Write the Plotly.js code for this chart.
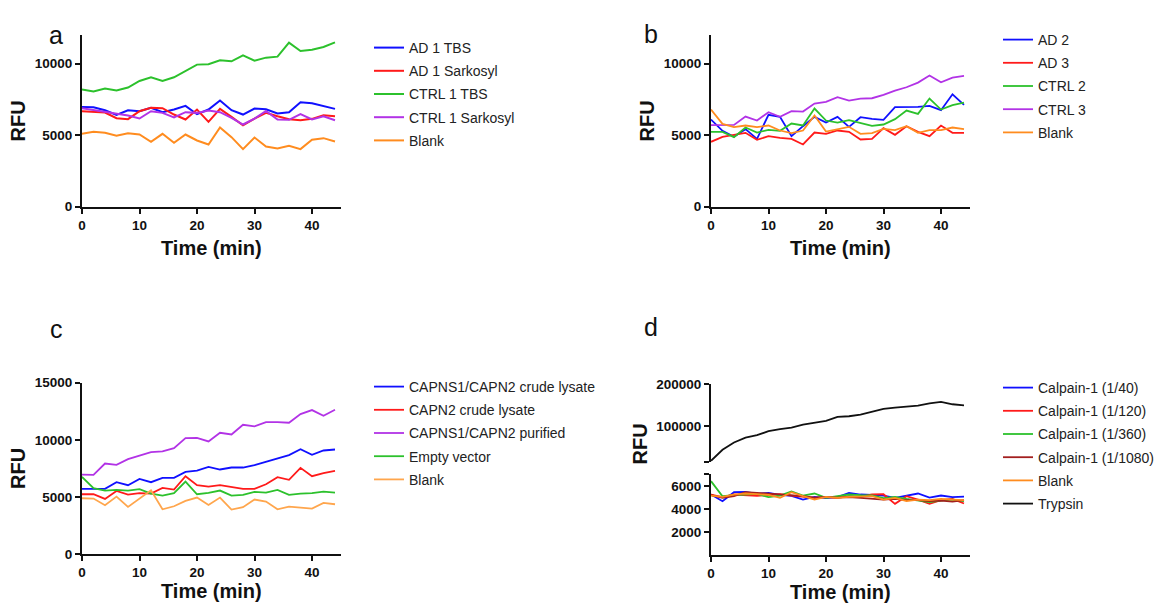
<!DOCTYPE html>
<html>
<head>
<meta charset="utf-8">
<script src="https://cdn.plot.ly/plotly-3.0.1.min.js"></script>
<style>html,body{margin:0;padding:0;background:#fff;}#chart{width:1161px;height:608px;}</style>
</head>
<body>
<div id="chart"></div>
<script>
// ---------- data ----------
const time = [0,2,4,6,8,10,12,14,16,18,20,22,24,26,28,30,32,34,36,38,40,42,44];

// panel a
const aNames = ['AD 1 TBS','AD 1 Sarkosyl','CTRL 1 TBS','CTRL 1 Sarkosyl','Blank'];
const aAD1TBS = [6976,6953,6744,6418,6744,6674,6907,6604,6790,7046,6465,6790,7418,6744,6441,6860,6814,6511,6604,7302,7232,7046,6837];
const aAD1Sark = [6674,6651,6581,6186,6116,6674,6907,6884,6441,6093,6790,5930,6837,6279,5697,6163,6558,6325,6116,6046,6139,6395,6325];
const aCTRL1TBS = [8186,8046,8256,8116,8325,8790,9046,8790,9046,9488,9930,9953,10232,10163,10581,10209,10418,10488,11465,10884,10977,11163,11488];
const aCTRL1Sark = [6884,6744,6628,6511,6372,6163,6674,6558,6232,6604,6558,6720,6604,6209,5744,6163,6697,6093,6070,6465,6093,6325,6046];
const aBlank = [5093,5232,5163,4953,5139,5046,4535,5093,4465,5046,4628,4348,5535,4860,4023,4837,4209,4069,4255,4023,4674,4790,4557];

// panel b
const bNames = ['AD 2','AD 3','CTRL 2','CTRL 3','Blank'];
const bAD2 = [6093,5302,4883,5418,4744,6418,6279,4930,5627,6279,5883,6279,5581,6255,6139,6069,6953,6953,6976,7046,6744,7860,7116];
const bAD3 = [4534,4883,5023,5162,4674,4930,4813,4744,4348,5185,5093,5325,5232,4697,4744,5488,5023,5627,5232,4930,5674,5162,5162];
const bCTRL2 = [5232,5232,4860,5534,5185,5372,5302,5813,5674,6860,6023,5883,6046,5837,5651,5744,6116,6720,6488,7558,6790,7093,7279];
const bCTRL3 = [5697,5697,5720,6302,6023,6604,6279,6674,6651,7209,7325,7651,7418,7558,7581,7814,8116,8349,8674,9163,8697,9023,9139];
const bBlank = [6790,5790,5557,5674,5557,5674,5325,5139,5325,6372,5255,5395,5581,5093,5139,5441,5348,5627,5162,5348,5348,5534,5418];

// panel c
const cNames = ['CAPNS1/CAPN2 crude lysate','CAPN2 crude lysate','CAPNS1/CAPN2 purified','Empty vector','Blank'];
const cCrude = [5702,5672,5702,6286,6023,6579,6286,6667,6667,7193,7310,7632,7398,7573,7573,7778,8070,8363,8655,9181,8684,9064,9152];
const cCAPN2 = [5234,5234,4825,5526,5205,5322,5292,5789,5643,6813,6023,5906,6023,5848,5702,5702,6111,6725,6491,7544,6813,7076,7281];
const cPurified = [6959,6930,7924,7807,8304,8596,8918,8977,9269,10146,10175,9854,10614,10468,11316,11170,11550,11550,11491,12251,12602,12105,12632];
const cEmpty = [6754,5760,5556,5614,5556,5672,5292,5117,5322,6345,5234,5351,5556,5117,5175,5439,5380,5614,5175,5292,5322,5468,5380];
const cBlank = [4883,4854,4269,5029,4123,4825,5585,3918,4181,4649,4942,4298,4942,3889,4094,4766,4591,3918,4152,4064,3977,4474,4357];

// panel d
const dNames = ['Calpain-1 (1/40)','Calpain-1 (1/120)','Calpain-1 (1/360)','Calpain-1 (1/1080)','Blank','Trypsin'];
const dCal40 = [5246,4667,5449,5478,5304,5391,5217,5130,4811,5043,4927,5014,5391,5246,5217,5159,4956,5159,5333,4985,5159,5014,5072];
const dCal120 = [5246,5014,5246,5159,5130,5188,5275,5159,5043,4956,5014,4956,5101,5043,5246,5275,4435,5101,4811,4435,4753,4869,4464];
const dCal360 = [6406,5101,5188,5275,5304,5014,5159,5507,5159,5333,4956,5101,5246,5188,5159,4927,5043,4869,4753,4579,4724,4811,4667];
const dCal1080 = [5188,4956,5101,5449,5391,5333,5217,5159,5101,4985,5043,4985,5014,4956,4869,4811,4869,4753,4753,4667,4724,4638,4753];
const dBlank = [5159,5043,5246,5333,5275,5217,4956,5449,5101,4811,5043,4956,5043,5101,5101,4811,4956,4667,4811,4753,4869,4811,4753];
const dTrypsin = [18100,44100,61400,73200,78700,88200,92900,96900,103900,108700,112600,122000,123600,127600,134600,140900,144100,146500,148800,154300,157500,152000,149600];

// ---------- styling ----------
const W = 1161, H = 608;
const fx = p => p / W;
const fy = p => 1 - p / H;
const C = {blue:'#1010ff', red:'#ff1a1a', green:'#2cc12c', purple:'#b233e6', orange:'#ff8c1f', lorange:'#ffa64d', dred:'#a31f1f', black:'#111111'};
const FONT = 'Liberation Sans, Arial, sans-serif';
const tickfont = {family: FONT, size: 13.5, weight: 'bold', color: '#111'};
const titlefont = {family: FONT, size: 20, weight: 'bold', color: '#111'};

function line(x, y, name, color, xa, ya, leg, w) {
  return {type:'scatter', mode:'lines', x:x, y:y, name:name, xaxis:xa, yaxis:ya,
          legend:leg, legendgroup: leg + name,
          line:{color:color, width:w || 1.8}, hoverinfo:'x+y+name'};
}

const traces = [
  line(time, aAD1TBS, aNames[0], C.blue, 'x', 'y', 'legend', 2),
  line(time, aAD1Sark, aNames[1], C.red, 'x', 'y', 'legend', 2),
  line(time, aCTRL1TBS, aNames[2], C.green, 'x', 'y', 'legend', 2),
  line(time, aCTRL1Sark, aNames[3], C.purple, 'x', 'y', 'legend', 2),
  line(time, aBlank, aNames[4], C.orange, 'x', 'y', 'legend', 2),

  line(time, bAD2, bNames[0], C.blue, 'x2', 'y2', 'legend2'),
  line(time, bAD3, bNames[1], C.red, 'x2', 'y2', 'legend2'),
  line(time, bCTRL2, bNames[2], C.green, 'x2', 'y2', 'legend2'),
  line(time, bCTRL3, bNames[3], C.purple, 'x2', 'y2', 'legend2'),
  line(time, bBlank, bNames[4], C.orange, 'x2', 'y2', 'legend2'),

  line(time, cCrude, cNames[0], C.blue, 'x3', 'y3', 'legend3'),
  line(time, cCAPN2, cNames[1], C.red, 'x3', 'y3', 'legend3'),
  line(time, cPurified, cNames[2], C.purple, 'x3', 'y3', 'legend3'),
  line(time, cEmpty, cNames[3], C.green, 'x3', 'y3', 'legend3'),
  line(time, cBlank, cNames[4], C.lorange, 'x3', 'y3', 'legend3'),

  line(time, dCal40, dNames[0], C.blue, 'x4', 'y4', 'legend4'),
  line(time, dCal120, dNames[1], C.red, 'x4', 'y4', 'legend4'),
  line(time, dCal360, dNames[2], C.green, 'x4', 'y4', 'legend4'),
  line(time, dCal1080, dNames[3], C.dred, 'x4', 'y4', 'legend4'),
  line(time, dBlank, dNames[4], C.orange, 'x4', 'y4', 'legend4'),
  line(time, dTrypsin, dNames[5], C.black, 'x4', 'y5', 'legend4'),
];

function xax(domain, anchor, standoff) {
  return {domain: domain, anchor: anchor, range:[0,45], tick0:0, dtick:10,
          ticks:'outside', ticklen:5, tickwidth:2, tickcolor:'#111',
          showline:true, linewidth:2, linecolor:'#111', showgrid:false, zeroline:false,
          tickfont: tickfont,
          title:{text:'Time (min)', font: titlefont, standoff: standoff}};
}
function yax(domain, anchor, range, opts) {
  return Object.assign({domain: domain, anchor: anchor, range: range, tickformat:'d',
          ticks:'outside', ticklen:5, tickwidth:2, tickcolor:'#111',
          showline:true, linewidth:2, linecolor:'#111', showgrid:false, zeroline:false,
          tickfont: tickfont}, opts);
}

const xLeft = [fx(82), fx(340.75)];
const xRight = [fx(711), fx(969.75)];
const yTop = [fy(206.7), fy(35)];
const yC = [fy(554), fy(382.7)];
const yDlow = [fy(555), fy(474.3)];
const yDhigh = [fy(461.7), fy(384)];

function legendAt(xpx, ypx) {
  return {x: fx(xpx), y: fy(ypx), xanchor:'left', yanchor:'top', bgcolor:'rgba(0,0,0,0)',
          font:{family: FONT, size: 14, color:'#222'}, tracegroupgap: 2, itemclick:false, itemdoubleclick:false};
}

const rfuTitle = {text:'RFU', font: titlefont, standoff: 4};

const layout = {
  width: W, height: H,
  margin:{l:0, r:0, t:0, b:0},
  paper_bgcolor:'#fff', plot_bgcolor:'rgba(0,0,0,0)',
  showlegend: true,
  xaxis: xax(xLeft, 'y', 9),
  yaxis: yax(yTop, 'x', [0,12000], {tickvals:[0,5000,10000], title: rfuTitle}),
  xaxis2: xax(xRight, 'y2', 9),
  yaxis2: yax(yTop, 'x2', [0,12000], {tickvals:[0,5000,10000], title: rfuTitle}),
  xaxis3: xax(xLeft, 'y3', 5),
  yaxis3: yax(yC, 'x3', [0,15000], {tickvals:[0,5000,10000,15000], title: rfuTitle}),
  xaxis4: xax(xRight, 'y4', 5),
  yaxis4: yax(yDlow, 'x4', [0,7000], {tickvals:[2000,4000,6000,7000], ticktext:['2000','4000','6000','']}),
  yaxis5: yax(yDhigh, 'x4', [16000,200000], {tickvals:[16000,100000,200000], ticktext:['','100000','200000']}),
  legend: legendAt(369, 32),
  legend2: legendAt(998, 24),
  legend3: legendAt(369, 371),
  legend4: legendAt(998, 372),
  annotations: [
    {text:'a', x:fx(47), y:fy(19), xref:'paper', yref:'paper', showarrow:false, font:{family: FONT, size:25, color:'#111'}},
    {text:'b', x:fx(651), y:fy(18), xref:'paper', yref:'paper', showarrow:false, font:{family: FONT, size:25, color:'#111'}},
    {text:'c', x:fx(48), y:fy(329), xref:'paper', yref:'paper', showarrow:false, font:{family: FONT, size:25, color:'#111'}},
    {text:'d', x:fx(651), y:fy(327), xref:'paper', yref:'paper', showarrow:false, font:{family: FONT, size:25, color:'#111'}},
    {text:'RFU', x:fx(639), y:fy(467), xref:'paper', yref:'paper', showarrow:false, textangle:-90, font: titlefont}
  ]
};

Plotly.newPlot('chart', traces, layout, {displayModeBar:false});
</script>
</body>
</html>
